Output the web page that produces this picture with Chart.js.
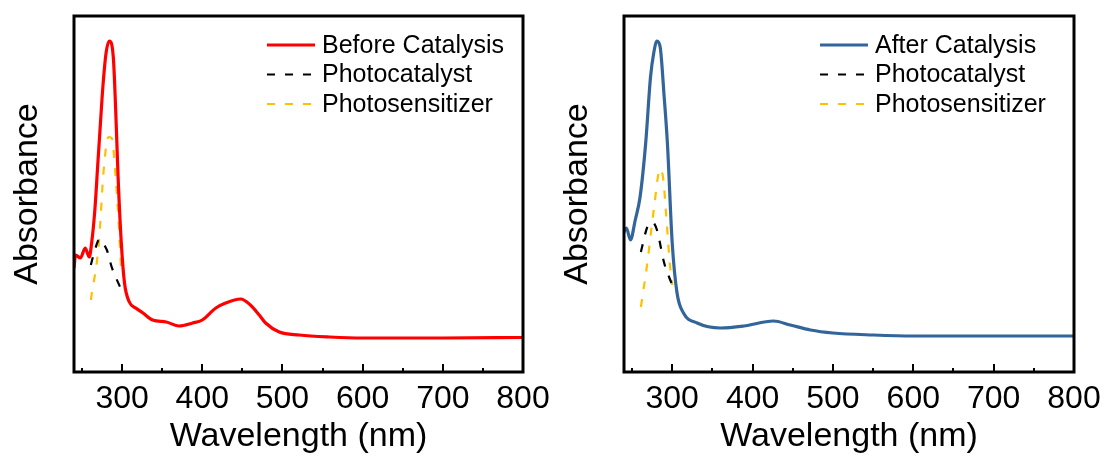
<!DOCTYPE html>
<html>
<head>
<meta charset="utf-8">
<script src="https://cdn.jsdelivr.net/npm/chart.js@4.4.0/dist/chart.umd.min.js"></script>
<style>
  html, body { margin: 0; padding: 0; background: #fff; }
  #wrap { position: relative; width: 1109px; height: 457px; }
  canvas { position: absolute; left: 0; top: 0; }
</style>
</head>
<body>
<div id="wrap">
  <canvas id="before" width="1109" height="457"></canvas>
  <canvas id="after" width="1109" height="457"></canvas>
</div>
<script>
// wavelength (nm) / absorbance (a.u.)
const wlBefore  = [240, 242, 248, 254, 259, 262, 266, 270, 273, 276, 280, 284, 289, 292, 295, 299, 303, 309, 317, 326, 338, 355, 371, 388, 400, 417, 429, 448, 460, 471, 479, 496, 521, 559, 600, 700, 800];
const absBefore = [1.04, 1.17, 1.14, 1.24, 1.15, 1.29, 1.62, 2.12, 2.49, 2.85, 3.19, 3.31, 3.15, 2.62, 1.95, 1.29, 0.89, 0.70, 0.64, 0.59, 0.52, 0.50, 0.46, 0.49, 0.52, 0.64, 0.69, 0.73, 0.67, 0.57, 0.49, 0.40, 0.37, 0.35, 0.34, 0.34, 0.345];

const wlAfter  = [240, 243, 248, 254, 260, 267, 273, 277, 281, 285, 290, 294, 300, 306, 314, 331, 360, 389, 426, 447, 472, 500, 550, 600, 700, 800];
const absAfter = [1.40, 1.44, 1.32, 1.52, 1.75, 2.29, 2.95, 3.19, 3.31, 3.25, 2.75, 2.29, 1.29, 0.79, 0.59, 0.49, 0.44, 0.46, 0.51, 0.47, 0.42, 0.39, 0.37, 0.36, 0.36, 0.36];

const wlCatBefore  = [261, 266, 272, 276, 281, 287, 298];
const absCatBefore = [1.07, 1.22, 1.33, 1.29, 1.22, 1.05, 0.84];
const wlSensBefore  = [261, 271, 277, 283, 287, 292, 296, 299];
const absSensBefore = [0.72, 1.29, 2.02, 2.35, 2.34, 1.95, 1.45, 0.99];

const wlCatAfter  = [261, 269, 275, 281, 290, 300];
const absCatAfter = [1.20, 1.45, 1.50, 1.42, 1.09, 0.87];
const wlSensAfter  = [261, 269, 277, 285, 289, 292, 297, 300];
const absSensAfter = [0.65, 1.09, 1.62, 2.03, 1.92, 1.62, 1.09, 0.87];

const xTicks = [300, 400, 500, 600, 700, 800];
const xMinor = [250, 350, 450, 550, 650, 750];

const pts = (xs, ys) => xs.map((x, i) => ({x: x, y: ys[i]}));

Chart.defaults.font.family = 'Liberation Sans, Arial, sans-serif';
Chart.defaults.color = '#000';

// box round the plot + inward ticks on the bottom axis
const framePlugin = {
  id: 'frame',
  afterDatasetsDraw(chart) {
    const {ctx, chartArea: a, scales: {x}} = chart;
    ctx.save();
    ctx.strokeStyle = '#000';
    ctx.lineWidth = 3;
    ctx.strokeRect(a.left, a.top, a.right - a.left, a.bottom - a.top);
    ctx.lineWidth = 2;
    ctx.beginPath();
    xTicks.forEach(v => {
      const px = Math.round(x.getPixelForValue(v));
      ctx.moveTo(px, a.bottom); ctx.lineTo(px, a.bottom - 8);
    });
    xMinor.forEach(v => {
      const px = Math.round(x.getPixelForValue(v));
      ctx.moveTo(px, a.bottom); ctx.lineTo(px, a.bottom - 4);
    });
    ctx.stroke();
    ctx.restore();
  }
};

// legend drawn inside the plot
const legendPlugin = {
  id: 'insideLegend',
  afterDraw(chart, args, opts) {
    const {ctx, chartArea: a} = chart;
    ctx.save();
    ctx.font = '25px Liberation Sans, Arial, sans-serif';
    ctx.textBaseline = 'middle';
    ctx.fillStyle = '#000';
    chart.data.datasets.forEach((ds, i) => {
      const y = opts.top + i * 29.5;
      const x0 = a.left + opts.left;
      ctx.strokeStyle = ds.borderColor;
      ctx.lineWidth = ds.borderWidth;
      ctx.setLineDash(ds.borderDash || []);
      ctx.beginPath();
      ctx.moveTo(x0, y); ctx.lineTo(x0 + 48, y);
      ctx.stroke();
      ctx.setLineDash([]);
      ctx.fillText(ds.label, x0 + 55, y + 1);
    });
    ctx.restore();
  }
};

function makeChart(id, mainLabel, mainColor, main, cat, sens, padLeft, padRight, legendLeft) {
  return new Chart(document.getElementById(id), {
    type: 'line',
    data: {
      datasets: [
        { label: mainLabel, data: main, borderColor: mainColor, borderWidth: 3.2, pointRadius: 0, cubicInterpolationMode: 'monotone' },
        { label: 'Photocatalyst', data: cat, borderColor: '#000', borderWidth: 2.2, borderDash: [8, 10], pointRadius: 0, cubicInterpolationMode: 'monotone' },
        { label: 'Photosensitizer', data: sens, borderColor: '#ffc000', borderWidth: 2.2, borderDash: [8, 10], pointRadius: 0, cubicInterpolationMode: 'monotone' }
      ]
    },
    options: {
      responsive: false,
      animation: false,
      layout: { padding: { left: padLeft, right: padRight, top: 16, bottom: 0 } },
      plugins: {
        legend: { display: false },
        tooltip: { enabled: false },
        insideLegend: { left: legendLeft, top: 45 }
      },
      scales: {
        x: {
          type: 'linear',
          min: 240,
          max: 800,
          afterBuildTicks: s => { s.ticks = xTicks.map(v => ({value: v})); },
          afterFit: s => { s.height = 85; },
          grid: { display: false, drawTicks: false },
          border: { display: false },
          ticks: { font: { size: 32 }, padding: 8, maxRotation: 0 },
          title: { display: true, text: 'Wavelength (nm)', font: { size: 34, lineHeight: 1 }, padding: { top: 0, bottom: 3 } }
        },
        y: {
          min: 0,
          max: 3.56,
          afterFit: s => { s.width = 74; },
          grid: { display: false, drawTicks: false },
          border: { display: false },
          ticks: { display: false },
          title: { display: true, text: 'Absorbance', font: { size: 34, lineHeight: 1 }, padding: { top: 11, bottom: 0 } }
        }
      }
    },
    plugins: [framePlugin, legendPlugin]
  });
}

makeChart('before', 'Before Catalysis', '#ff0000',
  pts(wlBefore, absBefore), pts(wlCatBefore, absCatBefore), pts(wlSensBefore, absSensBefore),
  0, 586, 193);

makeChart('after', 'After Catalysis', '#33659b',
  pts(wlAfter, absAfter), pts(wlCatAfter, absCatAfter), pts(wlSensAfter, absSensAfter),
  550, 35, 196);
</script>
</body>
</html>
